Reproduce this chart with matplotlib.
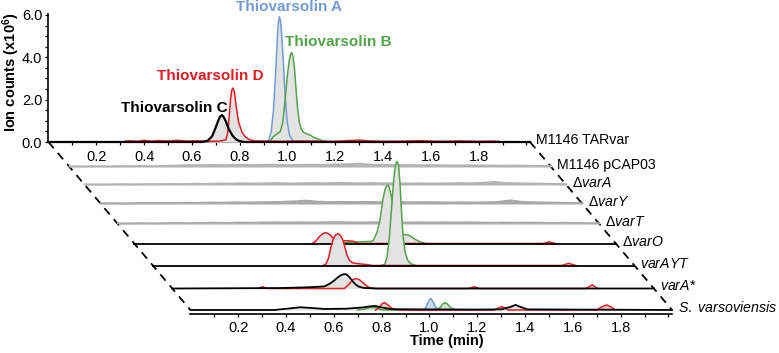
import numpy as np
import matplotlib
matplotlib.use("Agg")
import matplotlib.pyplot as plt

plt.rcParams['font.family'] = ['Liberation Sans', 'DejaVu Sans']
plt.rcParams['mathtext.fontset'] = 'custom'
plt.rcParams['mathtext.rm'] = 'Liberation Sans'
plt.rcParams['mathtext.it'] = 'Liberation Sans:italic'
plt.rcParams['mathtext.bf'] = 'Liberation Sans:bold'

# ---- data (time in min, intensity in 1e6 counts) ----
samples = ['M1146 TARvar', 'M1146 pCAP03', r'Δ$\mathit{varA}$', r'Δ$\mathit{varY}$',
           r'Δ$\mathit{varT}$', r'Δ$\mathit{varO}$', r'$\mathit{varAYT}$',
           r'$\mathit{varA}$*', r'$\mathit{S.\ varsoviensis}$']
t_end = 2.015

compounds = ['Thiovarsolin A', 'Thiovarsolin B', 'Thiovarsolin D', 'Thiovarsolin C']
compound_label_t = [1.006, 1.213, 0.676, 0.527]
compound_label_i = [6.38, 4.72, 3.12, 1.61]

# M1146 TARvar
tar_black_t = [0.0, 0.3, 0.64, 0.665, 0.685, 0.70, 0.71, 0.718, 0.725, 0.732, 0.742, 0.755, 0.77,
               0.785, 0.80, 0.82, t_end]
tar_black_i = [0, 0, 0, 0.05, 0.28, 0.7, 1.0, 1.2, 1.27, 1.2, 0.98, 0.6, 0.3, 0.12, 0.04, 0, 0]
tar_blue_t = [0.91, 0.922, 0.932, 0.942, 0.95, 0.956, 0.961, 0.966, 0.971, 0.976, 0.982, 0.99, 0.998,
              1.008, 1.02, 1.035]
tar_blue_i = [0, 0.1, 0.5, 1.6, 3.2, 4.6, 5.55, 5.92, 5.7, 5.0, 3.9, 2.2, 1.0, 0.35, 0.08, 0]
tar_green_t = [0.925, 0.94, 0.97, 0.98, 0.99, 1.0, 1.008, 1.013, 1.018, 1.023, 1.029, 1.035, 1.042,
               1.05, 1.058, 1.068, 1.08, 1.094, 1.11, 1.13, 1.15, 1.17]
tar_green_i = [0, 0.25, 0.5, 0.9, 2.0, 3.2, 3.9, 4.15, 4.22, 4.05, 3.5, 2.6, 1.6, 0.9, 0.6, 0.45, 0.38,
               0.33, 0.22, 0.13, 0.05, 0]
tar_red_t = [0.30, 0.34, 0.37, 0.40, 0.43, 0.46, 0.50, 0.54, 0.58, 0.62, 0.66, 0.70, 0.72, 0.742, 0.75,
             0.756, 0.762, 0.767, 0.772, 0.778, 0.785, 0.795, 0.81, 0.825, 0.845, 0.87, 0.92, 0.98,
             1.05, 1.12, 1.2, 1.26, 1.3, 1.34, 1.4, 1.48, 1.55, 1.6, 1.65, 1.72, 1.8, 1.86, 1.92]
tar_red_i = [0.0, 0.06, 0.03, 0.08, 0.04, 0.07, 0.05, 0.08, 0.04, 0.06, 0.03, 0.04, 0.05, 0.1, 0.45,
             1.2, 2.05, 2.45, 2.55, 2.35, 1.7, 0.95, 0.45, 0.22, 0.09, 0.05, 0.04, 0.03, 0.05,
             0.04, 0.03, 0.07, 0.09, 0.05, 0.03, 0.04, 0.06, 0.04, 0.03, 0.05, 0.03, 0.04, 0.0]

# gray controls, read every ~0.05 min
noise_t = np.linspace(0, t_end, 41)
pcap03_i = [0.03, 0.03, 0.04, 0.03, 0.04, 0.04, 0.05, 0.04, 0.05, 0.07, 0.09, 0.08, 0.10, 0.08, 0.11,
            0.09, 0.10, 0.11, 0.09, 0.10, 0.11, 0.10, 0.12, 0.13, 0.16, 0.11, 0.10, 0.09, 0.09, 0.08,
            0.09, 0.08, 0.07, 0.08, 0.07, 0.07, 0.06, 0.07, 0.06, 0.05, 0.04]
dvara_i = [0.03, 0.03, 0.03, 0.04, 0.03, 0.04, 0.04, 0.05, 0.04, 0.06, 0.05, 0.07, 0.06, 0.08, 0.07,
           0.08, 0.09, 0.07, 0.08, 0.09, 0.08, 0.10, 0.09, 0.08, 0.09, 0.08, 0.08, 0.07, 0.08, 0.07,
           0.08, 0.09, 0.08, 0.10, 0.14, 0.09, 0.08, 0.07, 0.06, 0.05, 0.04]
dvary_i = [0.03, 0.04, 0.03, 0.04, 0.05, 0.04, 0.05, 0.06, 0.05, 0.07, 0.06, 0.08, 0.07, 0.08, 0.09,
           0.10, 0.12, 0.16, 0.11, 0.09, 0.10, 0.09, 0.10, 0.09, 0.08, 0.09, 0.08, 0.09, 0.08, 0.07,
           0.08, 0.07, 0.08, 0.10, 0.17, 0.10, 0.08, 0.07, 0.06, 0.05, 0.04]
dvart_i = [0.03, 0.03, 0.04, 0.03, 0.04, 0.05, 0.04, 0.05, 0.06, 0.05, 0.07, 0.06, 0.07, 0.08, 0.07,
           0.08, 0.07, 0.08, 0.09, 0.08, 0.07, 0.08, 0.09, 0.08, 0.07, 0.08, 0.07, 0.08, 0.07, 0.08,
           0.07, 0.06, 0.07, 0.06, 0.07, 0.06, 0.05, 0.06, 0.05, 0.04, 0.04]

# dvarO
dvaro_black_t = [0.0, t_end]
dvaro_black_i = [0, 0]
dvaro_green_t = [0.85, 0.9, 0.95, 0.99, 1.0, 1.015, 1.028, 1.04, 1.048, 1.055, 1.061, 1.067, 1.074,
                 1.085, 1.1, 1.115, 1.13, 1.145, 1.16, 1.175, 1.195, 1.22]
dvaro_green_i = [0, 0.06, 0.08, 0.1, 0.15, 0.5, 1.1, 2.05, 2.5, 2.7, 2.76, 2.65, 2.3, 1.6, 0.8, 0.5,
                 0.42, 0.4, 0.32, 0.2, 0.08, 0]
dvaro_red_t = [0.745, 0.76, 0.775, 0.788, 0.797, 0.803, 0.81, 0.82, 0.83, 0.84, 0.86, 0.89, 0.92,
               0.935, 1.71, 1.737, 1.76]
dvaro_red_i = [0, 0.12, 0.33, 0.46, 0.5, 0.51, 0.48, 0.4, 0.28, 0.18, 0.13, 0.13, 0.1, 0, 0, 0.08, 0]

# varAYT
varayt_black_t = [0.0, t_end]
varayt_black_i = [0, 0]
varayt_green_t = [0.955, 0.97, 0.98, 0.99, 0.998, 1.006, 1.012, 1.018, 1.023, 1.028, 1.034, 1.04,
                  1.047, 1.055, 1.066, 1.08, 1.1]
varayt_green_i = [0, 0.05, 0.4, 1.4, 2.6, 3.8, 4.5, 4.85, 4.91, 4.7, 3.9, 2.6, 1.4, 0.65, 0.25, 0.08, 0]
varayt_red_t = [0.712, 0.725, 0.735, 0.745, 0.755, 0.765, 0.775, 0.785, 0.795, 0.804, 0.812, 0.822,
                0.835, 0.86, 0.89, 0.92, 1.71, 1.74, 1.77]
varayt_red_i = [0, 0.08, 0.35, 0.85, 1.25, 1.45, 1.5, 1.42, 1.2, 0.85, 0.5, 0.25, 0.13, 0.08, 0.05, 0,
                0, 0.1, 0]

# varA*
vara_black_t = [0.0, 0.45, 0.55, 0.61, 0.636, 0.655, 0.671, 0.69, 0.704, 0.715, 0.724, 0.733, 0.744,
                0.756, 0.768, 0.78, 0.80, 0.85, t_end]
vara_black_i = [0, 0.02, 0.05, 0.08, 0.1, 0.2, 0.32, 0.5, 0.62, 0.67, 0.68, 0.63, 0.5, 0.32, 0.18,
                0.09, 0.03, 0, 0]
vara_red_t = [0.36, 0.378, 0.395, 0.72, 0.74, 0.755, 0.77, 0.785, 0.80, 0.815, 0.83, 0.85,
              1.24, 1.264, 1.285, 1.73, 1.757, 1.78]
vara_red_i = [0, 0.085, 0, 0, 0.2, 0.42, 0.47, 0.4, 0.25, 0.1, 0.03, 0, 0, 0.08, 0, 0, 0.17, 0]

# S. varsoviensis
sv_black_t = [0.0, 0.35, 0.42, 0.46, 0.50, 0.56, 0.65, 0.72, 0.75, 0.772, 0.80, 0.84, 0.95, 1.2, 1.30,
              1.34, 1.36, 1.38, 1.41, 1.6, t_end]
sv_black_i = [0, 0, 0.08, 0.13, 0.1, 0.05, 0.06, 0.12, 0.17, 0.19, 0.12, 0.04, 0.03, 0.02, 0.03, 0.15,
              0.24, 0.15, 0.03, 0.02, 0]
sv_blue_t = [0.975, 0.985, 0.995, 1.005, 1.015, 1.025, 1.04]
sv_blue_i = [0, 0.12, 0.38, 0.55, 0.4, 0.15, 0]
sv_green_t = [0.70, 0.73, 0.755, 0.78, 0.80, 1.03, 1.045, 1.055, 1.065, 1.075, 1.09, 1.105, 1.12]
sv_green_i = [0, 0.05, 0.12, 0.1, 0, 0, 0.12, 0.28, 0.35, 0.28, 0.1, 0.02, 0]
sv_red_t = [0.775, 0.79, 0.80, 0.812, 0.825, 0.84, 0.855, 0.87, 1.27, 1.29, 1.302, 1.315, 1.33,
            1.70, 1.72, 1.741, 1.76, 1.78]
sv_red_i = [0, 0.1, 0.28, 0.35, 0.25, 0.1, 0.03, 0, 0, 0.1, 0.16, 0.1, 0, 0, 0.14, 0.24, 0.14, 0]

# ---- layout ----
W, H = 779, 353
PX_MIN = 239.0          # px per minute
PX_UNIT = 21.17         # px per 1e6 counts
X0, Y0 = 48.5, 142.0    # origin of the front axis (px, from top-left)
offset_px = [0, 25, 43, 62, 82, 101.5, 123.5, 146.5, 168]
slant = 0.845
DX = [slant * o / PX_MIN for o in offset_px]
DY = [-o / PX_UNIT for o in offset_px]

BLUE, GREEN, RED, BLACK = '#729bd4', '#52a349', '#e31b23', 'black'
GRAY_FILL = '#e3e3e3'
tint = {BLUE: '#cfdcf0', GREEN: '#d3e8cf', RED: '#f6d0d0', BLACK: '#e3e3e3'}

# trace table: (sample index, t, i, colour, line width)
traces = [
    (0, tar_blue_t, tar_blue_i, BLUE, 1.1), (0, tar_green_t, tar_green_i, GREEN, 1.1),
    (0, tar_red_t, tar_red_i, RED, 1.1), (0, tar_black_t, tar_black_i, BLACK, 1.6),
    (1, noise_t, pcap03_i, '#b3b3b3', 1.4), (2, noise_t, dvara_i, '#b3b3b3', 1.4),
    (3, noise_t, dvary_i, '#a8a8a8', 1.4), (4, noise_t, dvart_i, '#ababab', 1.4),
    (5, dvaro_green_t, dvaro_green_i, GREEN, 1.1), (5, dvaro_red_t, dvaro_red_i, RED, 1.1),
    (5, dvaro_black_t, dvaro_black_i, BLACK, 1.3),
    (6, varayt_green_t, varayt_green_i, GREEN, 1.1), (6, varayt_red_t, varayt_red_i, RED, 1.1),
    (6, varayt_black_t, varayt_black_i, BLACK, 1.3),
    (7, vara_red_t, vara_red_i, RED, 1.1), (7, vara_black_t, vara_black_i, BLACK, 1.3),
    (8, sv_blue_t, sv_blue_i, BLUE, 1.1), (8, sv_green_t, sv_green_i, GREEN, 1.1),
    (8, sv_red_t, sv_red_i, RED, 1.1), (8, sv_black_t, sv_black_i, BLACK, 1.3),
]

fig = plt.figure(figsize=(W / 100, H / 100), dpi=100)
xlim = (-0.2, 2.9)
ylim = (-9.0, 6.6)
left = X0 + xlim[0] * PX_MIN
bottom = (H - Y0) + ylim[0] * PX_UNIT
ax = fig.add_axes([left / W, bottom / H, (xlim[1] - xlim[0]) * PX_MIN / W,
                   (ylim[1] - ylim[0]) * PX_UNIT / H])
ax.set_xlim(*xlim)
ax.set_ylim(*ylim)
ax.patch.set_visible(False)

for k, t, i, col, lw in traces:
    tt = np.asarray(t, float) + DX[k]
    base = DY[k]
    yy = base + np.asarray(i, float)
    z = 10 + 4 * k
    if col.startswith('#a') or col.startswith('#b'):
        ax.fill_between(tt, base, yy, color=col, lw=0, zorder=z)
        ax.plot(tt, yy, color=col, lw=lw, zorder=z + 1)
    else:
        fc = tint[col] if k == 8 else GRAY_FILL
        ax.fill_between(tt, base, yy, color=fc, lw=0, zorder=z)
        ax.plot(tt, yy, color=col, lw=lw, zorder=z + (2 if col == BLACK else 1),
                solid_joinstyle='round')

# sample labels at the right
for k, name in enumerate(samples):
    ax.text(t_end + DX[k] + 6 / PX_MIN, DY[k] + 2 / PX_UNIT, name, fontsize=10.2,
            ha='left', va='center', zorder=50)

# compound labels
for name, tx, iy, col in zip(compounds, compound_label_t, compound_label_i, [BLUE, GREEN, RED, BLACK]):
    ax.text(tx, iy, name, color=col, fontsize=11, fontweight='bold', ha='center', va='center')

# slanted dashed guides
for tx in (0.0, t_end):
    ax.plot([tx + DX[0], tx + DX[-1]], [DY[0], DY[-1]], color='black', lw=1.3,
            dashes=(4.5, 3.5), zorder=5)

# front axis
for s in ('top', 'right'):
    ax.spines[s].set_visible(False)
ax.spines['left'].set_position(('data', 0))
ax.spines['bottom'].set_position(('data', 0))
ax.spines['left'].set_bounds(0, 6.05)
ax.spines['bottom'].set_bounds(0, t_end)
for s in ('left', 'bottom'):
    ax.spines[s].set_linewidth(1.2)

xt = np.round(np.arange(0.1, 2.01, 0.1), 1)
xl = [f'{v:.1f}' if (round(v * 10) % 2 == 0 and v < 1.95) else '' for v in xt]
ax.set_xticks(xt, xl)
ax.set_yticks([0, 2, 4, 6], ['0.0', '2.0', '4.0', '6.0'])
ax.set_yticks(np.arange(0, 6.01, 0.5), minor=True)
ax.tick_params(axis='x', direction='out', length=2.5, width=0.9, labelsize=10.5, pad=3)
ax.tick_params(axis='y', which='both', direction='out', length=2.5, width=0.9, labelsize=10.5, pad=2)
ax.set_ylabel(r'Ion counts (x10$^{\mathbf{6}}$)', fontsize=10.5, fontweight='bold')
ax.yaxis.set_label_coords(11 / W, 1 - 72.5 / H, transform=fig.transFigure)
ax.yaxis.label.set_va('center')

# rear time axis
bx0 = X0 + slant * offset_px[-1]
ax2 = fig.add_axes([bx0 / W, (H - 313.5) / H, t_end * PX_MIN / W, 1 / H])
ax2.set_xlim(0, t_end)
ax2.patch.set_visible(False)
for s in ('top', 'right', 'left'):
    ax2.spines[s].set_visible(False)
ax2.spines['bottom'].set_linewidth(1.2)
ax2.set_yticks([])
ax2.set_xticks(xt, xl)
ax2.tick_params(axis='x', direction='out', length=2.5, width=0.9, labelsize=10.5, pad=3)
ax2.set_xlabel('Time (min)', fontsize=10.5, fontweight='bold')
ax2.xaxis.set_label_coords(446.7 / W, 1 - 341.5 / H, transform=fig.transFigure)
ax2.xaxis.label.set_va('center')

fig.savefig('out.png', dpi=100)
